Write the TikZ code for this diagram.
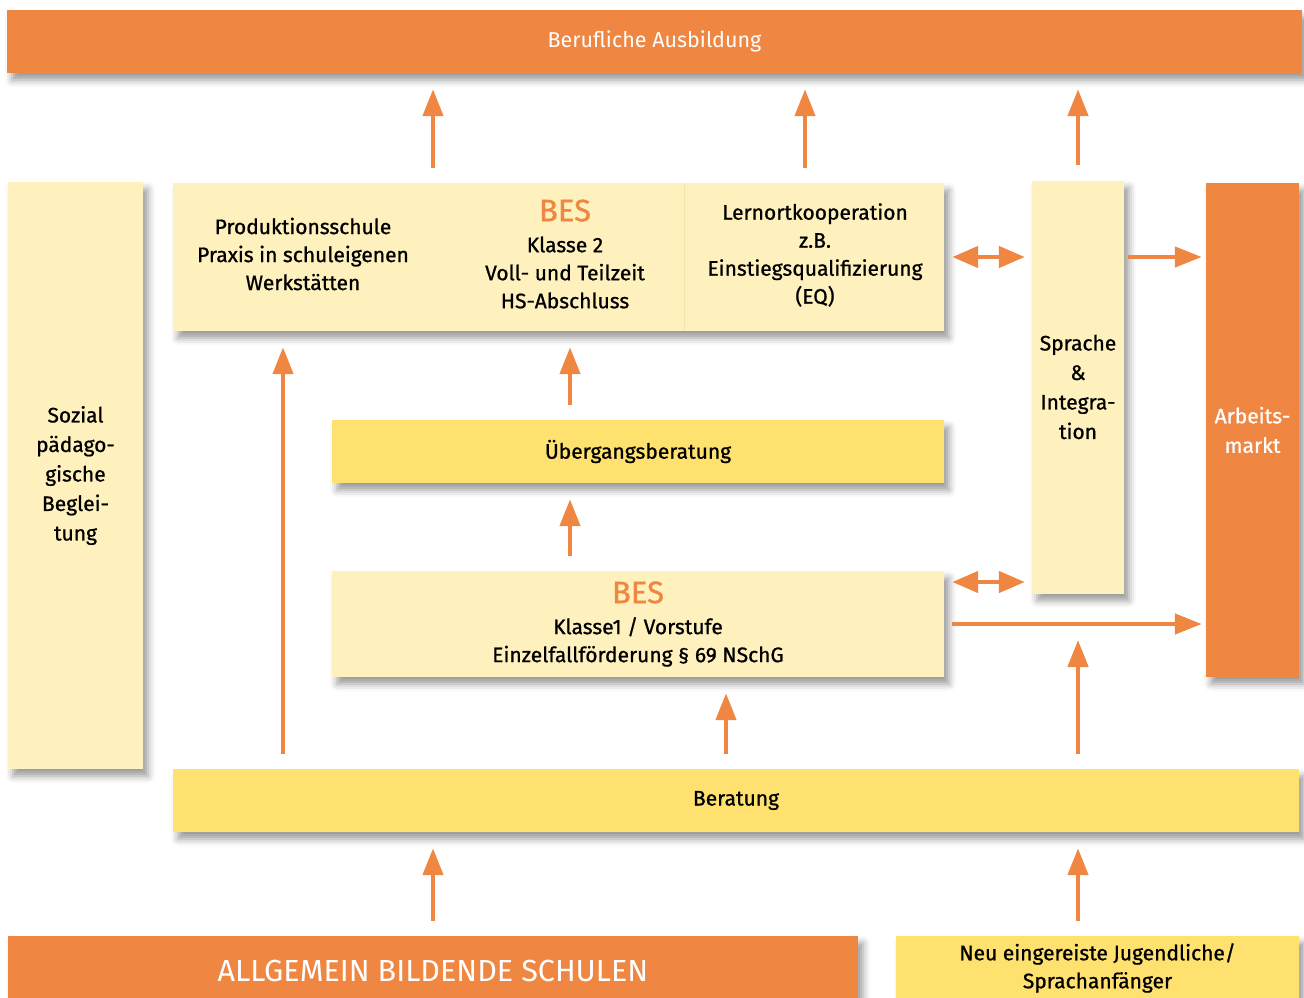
\documentclass[tikz,border=0pt]{standalone}
\usepackage{fontspec}
\setmainfont{Fira Sans}
\newfontfamily\medfont{Fira Sans}[FakeBold=0.9]
\usetikzlibrary{arrows.meta, positioning, calc, shadows.blur}
\newcommand\bodyfont{\medfont\fontsize{21}{28}\selectfont}
\newcommand\colfont{\medfont\fontsize{21}{29.5}\selectfont}
\newcommand\besfont{\fontsize{31}{34}\selectfont}
\newcommand\headfont{\fontsize{21.5}{28}\selectfont}
\newcommand\bigfont{\fontsize{30.5}{32}\selectfont}
\definecolor{bandorange}{RGB}{239,134,65}
\definecolor{lightyellow}{RGB}{254,241,189}
\definecolor{darkyellow}{RGB}{254,225,110}
\definecolor{divider}{RGB}{244,228,172}
\tikzset{
    panel/.style={rectangle, inner sep=0pt, align=center, font=\bodyfont, blur shadow={shadow xshift=5pt, shadow yshift=-7pt, shadow blur radius=7pt, shadow opacity=40}},
    lightbox/.style={panel, fill=lightyellow},
    darkbox/.style={panel, fill=darkyellow},
    orangebox/.style={panel, fill=bandorange, text=white},
    txt/.style={align=center, font=\bodyfont, inner sep=0pt},
    arrow/.style={line width=4.5pt, -{Triangle[length=27pt, width=20pt]}, color=bandorange, shorten >=16pt, shorten <=15pt},
    twoway/.style={line width=4.5pt, {Triangle[length=26pt, width=21pt]}-{Triangle[length=26pt, width=21pt]}, color=bandorange, shorten >=7pt, shorten <=8pt}
}

\begin{document}
\begin{tikzpicture}[x=1pt, y=-1pt]
    \useasboundingbox (0,0) rectangle (1304,997);

    % Columns for the arrows
    \coordinate (colA) at (433,0);
    \coordinate (colB) at (805,0);
    \coordinate (colC) at (570,0);
    \coordinate (colD) at (283,0);
    \coordinate (colE) at (726,0);
    \coordinate (colF) at (684,0);
    \coordinate (rowA) at (0,582);

    % Boxes
    \node (ausbildung) [orangebox, minimum width=1295pt, minimum height=63pt, font=\headfont] at (654.5,41.5) {Berufliche Ausbildung};
    \node (sozial) [lightbox, minimum width=135pt, minimum height=587pt, font=\colfont] at (75.5,475.5) {Sozial\\pädago-\\gische\\Beglei-\\tung};
    \node (oben) [lightbox, minimum width=771pt, minimum height=148pt] at (558.5,257) {};
    \node (sprache) [lightbox, minimum width=92pt, minimum height=413pt, font=\colfont] at (1078,387) {Sprache\\\&\\Integra-\\tion};
    \node (arbeitsmarkt) [orangebox, minimum width=93pt, minimum height=494pt, font=\colfont] at (1252.5,430) {Arbeits-\\markt};
    \node (uebergang) [darkbox, minimum width=612pt, minimum height=63pt] at (638,451.5) {Übergangsberatung};
    \node (bes1) [lightbox, minimum width=612pt, minimum height=106pt] at (638,624) {{\besfont\color{bandorange}BES}\\[3pt]Klasse1 / Vorstufe\\Einzelfallförderung § 69 NSchG};
    \node (beratung) [darkbox, minimum width=1126pt, minimum height=63pt] at (736,800.5) {Beratung};
    \node (schulen) [orangebox, minimum width=850pt, minimum height=70pt, font=\bigfont] at (433,971) {ALLGEMEIN BILDENDE SCHULEN};
    \node (neu) [darkbox, minimum width=403pt, minimum height=64pt] at (1097.5,968) {Neu eingereiste Jugendliche/\\Sprachanfänger};

    % Texts in the upper box
    \draw [divider, line width=1pt] (oben.north -| colF) -- (oben.south -| colF);
    \node (prod) [txt] at (303,254) {Produktionsschule\\Praxis in schuleigenen\\Werkstätten};
    \node (bes2) [txt] at (565,254) {{\besfont\color{bandorange}BES}\\[3pt]Klasse 2\\Voll- und Teilzeit\\HS-Abschluss};
    \node (eq) [txt] at (815,255) {Lernortkooperation\\z.B.\\Einstiegsqualifizierung\\(EQ)};

    % Arrows
    \draw [arrow] (oben.north -| colA) -- (ausbildung.south -| colA);
    \draw [arrow] (oben.north -| colB) -- (ausbildung.south -| colB);
    \draw [arrow] (sprache.north) -- (sprache.north |- ausbildung.south);
    \draw [twoway] (oben.east) -- (oben.east -| sprache.west);
    \draw [arrow, shorten <=4pt, shorten >=4pt] (oben.east -| sprache.east) -- (oben.east -| arbeitsmarkt.west);
    \draw [arrow] (uebergang.north -| colC) -- (oben.south -| colC);
    \draw [arrow] (bes1.north -| colC) -- (uebergang.south -| colC);
    \draw [twoway] (bes1.east |- rowA) -- (sprache.west |- rowA);
    \draw [arrow, shorten <=8pt, shorten >=4pt] (bes1.east) -- (bes1.east -| arbeitsmarkt.west);
    \draw [arrow] (beratung.north -| colD) -- (oben.south -| colD);
    \draw [arrow] (beratung.north -| colE) -- (bes1.south -| colE);
    \draw [arrow] (beratung.north -| sprache.south) -- (bes1.east -| sprache.south);
    \draw [arrow] (schulen.north) -- (schulen.north |- beratung.south);
    \draw [arrow] (neu.north -| sprache.south) -- (beratung.south -| sprache.south);
\end{tikzpicture}
\end{document}
